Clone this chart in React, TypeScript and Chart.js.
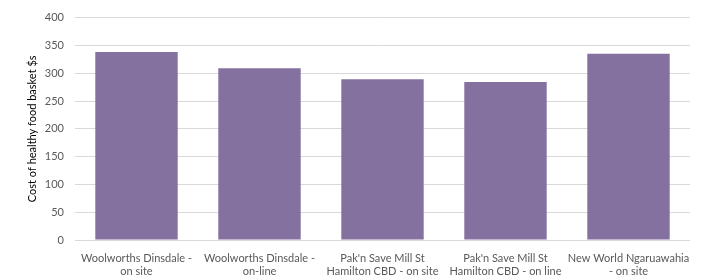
import React, { useEffect, useRef } from "react";
import { Chart, registerables } from "chart.js";

Chart.register(...registerables);

const categories: string[][] = [
  ["Woolworths Dinsdale -", "on site"],
  ["Woolworths Dinsdale -", "on-line"],
  ["Pak'n Save Mill St", "Hamilton CBD - on site"],
  ["Pak'n Save Mill St", "Hamilton CBD - on line"],
  ["New World Ngaruawahia", "- on site"],
];
const basketCost: number[] = [338, 309, 289, 284, 335];
const yTitle = "Cost of healthy food basket $s";
const yMin = 0;
const yMax = 400;
const yStep = 50;

export default function App() {
  const ref = useRef<HTMLCanvasElement | null>(null);
  useEffect(() => {
    document.body.style.margin = "0";
    if (!ref.current) return;
    const font = "Lato, 'Liberation Sans', sans-serif";
    const chart = new Chart(ref.current, {
      type: "bar",
      data: {
        labels: categories,
        datasets: [
          {
            data: basketCost,
            backgroundColor: "#8571A0",
            borderWidth: 0,
            categoryPercentage: 0.67,
            barPercentage: 1,
          },
        ],
      },
      options: {
        animation: false,
        responsive: false,
        maintainAspectRatio: false,
        layout: { padding: { top: 15, right: 11, left: 0, bottom: 0 } },
        plugins: { legend: { display: false }, tooltip: { enabled: false } },
        scales: {
          x: {
            grid: { display: false },
            border: { display: false },
            ticks: {
              color: "#595959",
              font: { family: font, size: 11 },
              padding: 4,
              maxRotation: 0,
              autoSkip: false,
            },
            afterFit: (s: any) => {
              s.height = 35;
            },
          },
          y: {
            min: yMin,
            max: yMax,
            grid: { color: "#D9D9D9", lineWidth: 1, drawTicks: false },
            border: { display: false },
            ticks: {
              stepSize: yStep,
              color: "#595959",
              font: { family: font, size: 11 },
              padding: 11,
            },
            title: {
              display: true,
              text: yTitle,
              color: "#000000",
              font: { family: font, size: 11 },
              padding: { top: 26, bottom: 0 },
            },
            afterFit: (s: any) => {
              s.width = 75;
            },
          },
        },
      },
    });
    return () => chart.destroy();
  }, []);
  return (
    <div style={{ position: "relative", width: 701, height: 275 }}>
      <canvas ref={ref} width={701} height={275} style={{ display: "block" }} />
    </div>
  );
}
